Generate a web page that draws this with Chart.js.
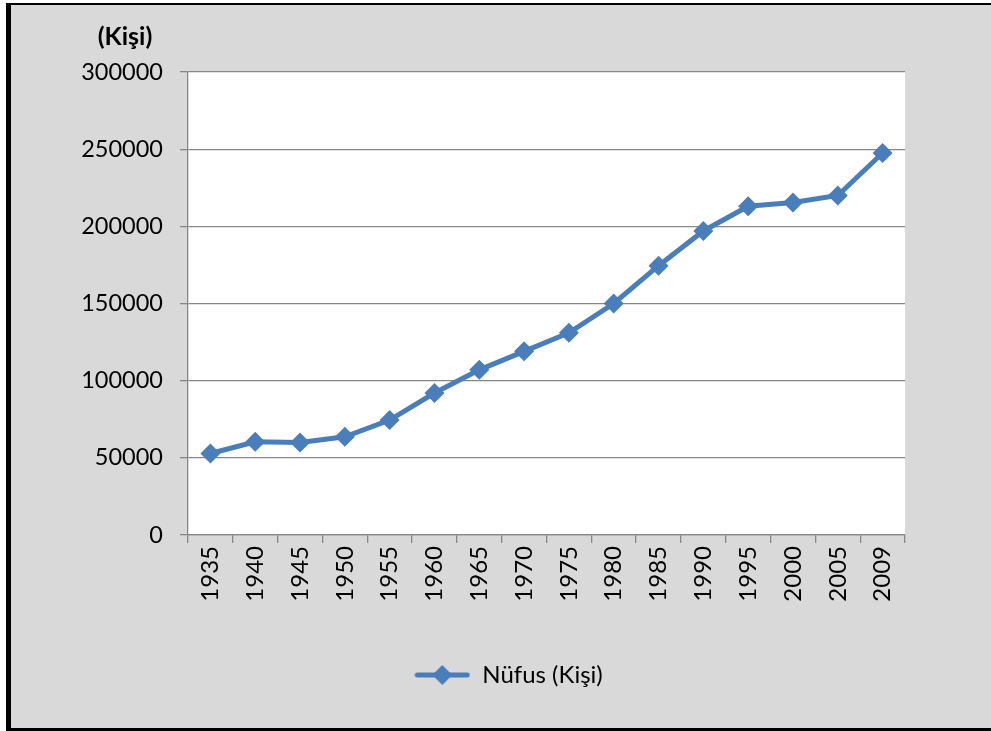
<!DOCTYPE html>
<html>
<head>
<meta charset="utf-8">
<script src="https://cdn.jsdelivr.net/npm/chart.js@4"></script>
<style>
    html, body { margin: 0; padding: 0; background: #ffffff; }
    #frame {
        position: absolute; left: 6px; top: 3px; width: 985px; height: 723px;
        background: #d9d9d9;
        border-left: 5px solid #000; border-top: 2px solid #000; border-bottom: 3px solid #000;
        box-sizing: content-box;
    }
    #wrap { position: absolute; left: 0; top: 0; width: 991px; height: 731px; }
</style>
</head>
<body>
<div id="frame"></div>
<div id="wrap"><canvas id="chart" width="991" height="731"></canvas></div>
<script>
// Nüfus verisi (Kişi)
const years = ['1935', '1940', '1945', '1950', '1955', '1960', '1965', '1970',
               '1975', '1980', '1985', '1990', '1995', '2000', '2005', '2009'];
const population = [52800, 60400, 59900, 63600, 74500, 92000, 107000, 119000,
                    131000, 150000, 174500, 197000, 213000, 215500, 220000, 247500];
const yTicks = [0, 50000, 100000, 150000, 200000, 250000, 300000];

const seriesLabel = 'Nüfus (Kişi)';
const unitLabel = '(Kişi)';
const blue = '#4a7ebb';
const gridGray = '#878787';
const fontName = 'Lato, "Open Sans", sans-serif';

// legend marker: line with a diamond in the middle
function legendMarker() {
    const c = document.createElement('canvas');
    c.width = 56; c.height = 22;
    const ctx = c.getContext('2d');
    ctx.strokeStyle = blue;
    ctx.lineWidth = 5;
    ctx.lineCap = 'round';
    ctx.beginPath();
    ctx.moveTo(3, 11); ctx.lineTo(53, 11);
    ctx.stroke();
    ctx.fillStyle = blue;
    ctx.beginPath();
    ctx.moveTo(28, 1); ctx.lineTo(38, 11); ctx.lineTo(28, 21); ctx.lineTo(18, 11);
    ctx.closePath();
    ctx.fill();
    return c;
}

const plotBackground = {
    id: 'plotBackground',
    beforeDraw(chart) {
        const { ctx, chartArea } = chart;
        ctx.save();
        ctx.fillStyle = '#ffffff';
        ctx.fillRect(chartArea.left, chartArea.top, chartArea.right - chartArea.left, chartArea.bottom - chartArea.top);
        ctx.restore();
    }
};

// the legend sits a bit right of the canvas centre in the original
const legendShift = {
    id: 'legendShift',
    afterLayout(chart) {
        if (!chart.legend) return;
        chart.legend.left += 46;
        chart.legend.right += 46;
    }
};

const unitTitle = {
    id: 'unitTitle',
    afterDraw(chart) {
        const ctx = chart.ctx;
        ctx.save();
        ctx.font = 'bold 25px ' + fontName;
        ctx.fillStyle = '#000000';
        ctx.textAlign = 'center';
        ctx.textBaseline = 'middle';
        ctx.fillText(unitLabel, 125, 37);
        ctx.restore();
    }
};

const ctx = document.getElementById('chart').getContext('2d');
new Chart(ctx, {
    type: 'line',
    data: {
        labels: years,
        datasets: [{
            label: seriesLabel,
            data: population,
            borderColor: blue,
            backgroundColor: blue,
            borderWidth: 5,
            pointStyle: 'rectRot',
            pointRadius: 10,
            pointHoverRadius: 10,
            pointBackgroundColor: blue,
            pointBorderWidth: 0,
            tension: 0
        }]
    },
    options: {
        responsive: false,
        animation: false,
        layout: { padding: { left: 20, right: 86, top: 72, bottom: 34 } },
        plugins: {
            tooltip: { enabled: false },
            legend: {
                position: 'bottom',
                labels: {
                    usePointStyle: true,
                    pointStyle: legendMarker(),
                    pointStyleWidth: 56,
                    color: '#000000',
                    font: { family: fontName, size: 24 },
                    padding: 10
                }
            }
        },
        scales: {
            x: {
                offset: true,
                grid: { offset: true, drawOnChartArea: false, drawTicks: true, tickLength: 8, color: gridGray, lineWidth: 1.3 },
                border: { color: gridGray, width: 1.3 },
                ticks: {
                    color: '#000000',
                    font: { family: fontName, size: 24 },
                    minRotation: 90, maxRotation: 90,
                    padding: 3,
                    autoSkip: false
                },
                afterFit(scale) { scale.height = 118; }
            },
            y: {
                min: 0, max: 300000,
                afterBuildTicks(scale) { scale.ticks = yTicks.map(v => ({ value: v })); },
                grid: { color: gridGray, lineWidth: 1.3, tickLength: 8 },
                border: { color: gridGray, width: 1.3 },
                ticks: {
                    color: '#000000',
                    font: { family: fontName, size: 23.5 },
                    padding: 17,
                    callback: v => String(v)
                },
                afterFit(scale) { scale.width = 168; }
            }
        }
    },
    plugins: [plotBackground, legendShift, unitTitle]
});
</script>
</body>
</html>
